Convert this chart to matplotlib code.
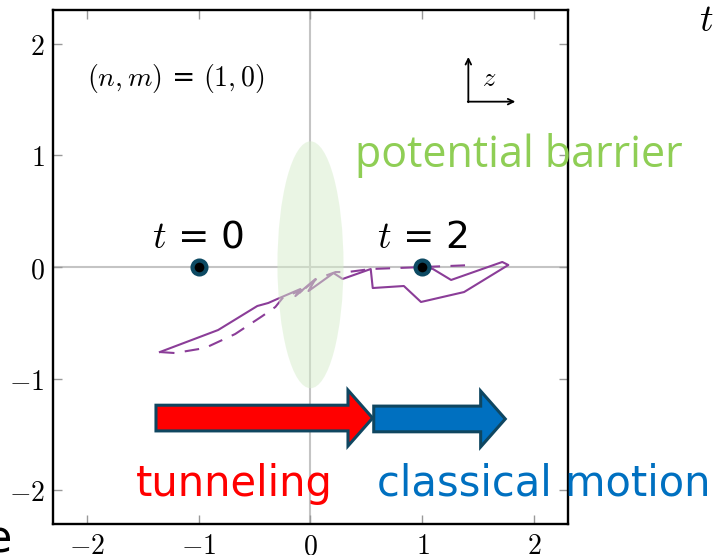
import matplotlib
matplotlib.use("Agg")
import matplotlib.pyplot as plt
from matplotlib.patches import Ellipse, FancyArrow

plt.rcParams["mathtext.fontset"] = "cm"

# ---- data ----
xticks = [-2, -1, 0, 1, 2]
yticks = [-2, -1, 0, 1, 2]
tick_labels = [r"$-2$", r"$-1$", r"$0$", r"$1$", r"$2$"]

# solid trajectory
solid_x = [-1.345, -0.825, -0.475, -0.377, -0.278, -0.090, -0.135, 0.045, -0.018,
           0.206, 0.287, 0.538, 0.556, 0.834, 0.987, 1.372, 1.767, 1.713, 1.256,
           1.094, 1.022]
solid_y = [-0.761, -0.564, -0.349, -0.322, -0.278, -0.197, -0.260, -0.107, -0.215,
           -0.054, -0.107, -0.018, -0.188, -0.170, -0.313, -0.224, 0.018, 0.045,
           -0.116, -0.018, 0.000]

# dashed trajectory
dash_x = [-1.345, -1.211, -0.942, -0.673, -0.430, -0.314, -0.242, -0.072, -0.108,
          0.054, 0.224, 0.332, 0.538, 1.013, 1.453]
dash_y = [-0.761, -0.770, -0.725, -0.600, -0.439, -0.358, -0.269, -0.206, -0.242,
          -0.107, -0.045, -0.045, -0.018, 0.000, 0.018]

# start / end points
pt_x = [-1.0, 1.0]
pt_y = [0.0, 0.0]
pt_labels = ["0", "2"]

# barrier ellipse (center, width, height)
barrier = (0.0, 0.02, 0.59, 2.21)

# arrows: x start, length, y center
tunnel_arrow = (-1.38, 1.935, -1.352)
classic_arrow = (0.565, 1.175, -1.36)

purple = "#8b3d98"
edge_teal = "#0f4660"

fig = plt.figure(figsize=(7.14, 5.55), dpi=100)
ax = fig.add_axes([0.0742, 0.0559, 0.7213, 0.926])
ax.set_xlim(-2.3, 2.3)
ax.set_ylim(-2.3, 2.3)

# axes cross
ax.axhline(0, color="#c4c4c4", lw=1.5, zorder=1)
ax.axvline(0, color="#c4c4c4", lw=1.5, zorder=1)

ax.plot(solid_x, solid_y, color=purple, lw=1.5, zorder=2)
ax.plot(dash_x, dash_y, color=purple, lw=1.5, ls=(0, (7, 5)), zorder=2)

# barrier on top, semi transparent
ell = Ellipse((barrier[0], barrier[1]), barrier[2], barrier[3],
              facecolor="#d6edcb", edgecolor="none", alpha=0.5, zorder=3)
ax.add_patch(ell)

ax.plot(pt_x, pt_y, "o", ms=10, mfc="black", mec="#0d4a63", mew=3, zorder=4)
for x, lab in zip(pt_x, pt_labels):
    ax.text(x, 0.10, r"$t$ = " + lab, fontsize=27, ha="center", va="bottom", zorder=5)

# arrows
for (x0, L, yc), col in [(tunnel_arrow, "#ff0000"), (classic_arrow, "#0070c0")]:
    ax.add_patch(FancyArrow(x0, yc, L, 0, width=0.23, head_width=0.5, head_length=0.22,
                            length_includes_head=True, facecolor=col,
                            edgecolor=edge_teal, lw=2.2, zorder=5))

# z axis glyph
ax.annotate("", xy=(1.41, 1.88), xytext=(1.41, 1.475),
            arrowprops=dict(arrowstyle="->", color="black", lw=1.3, shrinkA=0, shrinkB=0))
ax.annotate("", xy=(1.83, 1.48), xytext=(1.405, 1.48),
            arrowprops=dict(arrowstyle="->", color="black", lw=1.3, shrinkA=0, shrinkB=0))
ax.text(1.60, 1.68, r"$z$", fontsize=19, ha="center", va="center")

ax.text(-2.0, 1.69, r"$(n,m)$ = $(1,0)$", fontsize=20, ha="left", va="center")

# annotation texts
ax.text(1.857, 1.0, "potential barrier", fontsize=31, color="#8fce55",
        family=["Open Sans", "DejaVu Sans"], ha="center", va="center", zorder=6)
ax.text(-0.68, -1.94, "tunneling", fontsize=30, color="#ff0000",
        ha="center", va="center", zorder=6)
ax.text(2.08, -1.94, "classical motion", fontsize=30, color="#0070c0",
        ha="center", va="center", zorder=6)

ax.set_xticks(xticks)
ax.set_xticklabels(tick_labels)
ax.set_yticks(yticks)
ax.set_yticklabels(tick_labels)
ax.tick_params(direction="in", length=6.5, width=1, color="#999999", labelsize=20,
               top=True, right=True, pad=6)
for s in ax.spines.values():
    s.set_linewidth(1.7)

# stray glyphs at the figure edges
fig.text(0.9985, 0.962, r"$t$", fontsize=27, ha="right", va="center")
fig.text(0.017, -0.012, "e", fontsize=32, ha="right", va="bottom")

fig.savefig("out.png", dpi=100)
